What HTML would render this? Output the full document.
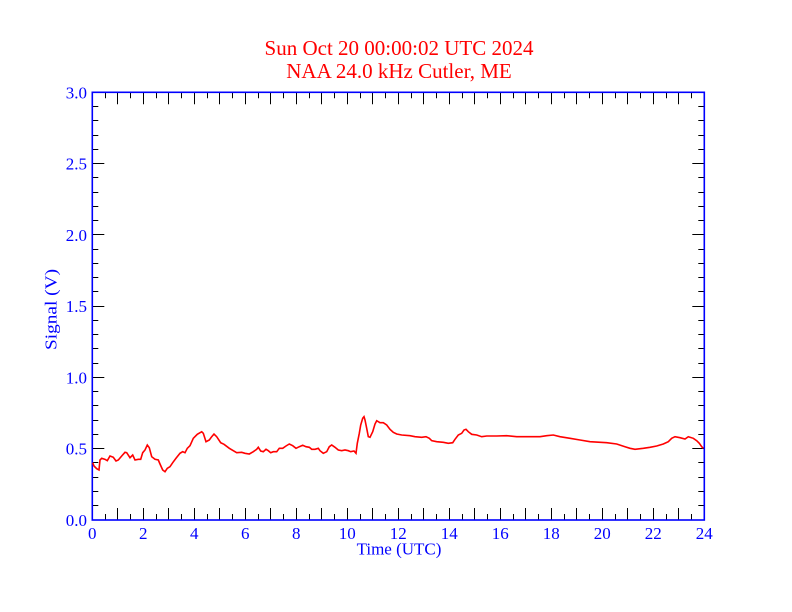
<!DOCTYPE html>
<html><head><meta charset="utf-8"><style>html,body{margin:0;padding:0;background:#fff}svg{display:block}</style></head>
<body>
<svg width="792" height="612" viewBox="0 0 792 612" xmlns="http://www.w3.org/2000/svg">
<rect width="792" height="612" fill="#fff"/>
<defs>
<path id="XL" d="M0 520v-12M0 92.3v12" stroke="#000" stroke-width="1"/>
<path id="XS" d="M0 520v-6M0 92.3v6" stroke="#000" stroke-width="1"/>
<path id="YL" d="M92.3 0h12M704.3 0h-12" stroke="#000" stroke-width="1"/>
<path id="YS" d="M92.3 0h6M704.3 0h-6" stroke="#000" stroke-width="1"/>
</defs>
<g>
<use href="#XS" x="105.5"/><use href="#XL" x="117.5"/><use href="#XS" x="130.5"/><use href="#XL" x="143.5"/>
<use href="#XS" x="156.5"/><use href="#XL" x="168.5"/><use href="#XS" x="181.5"/><use href="#XL" x="194.5"/>
<use href="#XS" x="207.5"/><use href="#XL" x="219.5"/><use href="#XS" x="232.5"/><use href="#XL" x="245.5"/>
<use href="#XS" x="258.5"/><use href="#XL" x="270.5"/><use href="#XS" x="283.5"/><use href="#XL" x="296.5"/>
<use href="#XS" x="309.5"/><use href="#XL" x="321.5"/><use href="#XS" x="334.5"/><use href="#XL" x="347.5"/>
<use href="#XS" x="360.5"/><use href="#XL" x="372.5"/><use href="#XS" x="385.5"/><use href="#XL" x="398.5"/>
<use href="#XS" x="411.5"/><use href="#XL" x="423.5"/><use href="#XS" x="436.5"/><use href="#XL" x="449.5"/>
<use href="#XS" x="462.5"/><use href="#XL" x="474.5"/><use href="#XS" x="487.5"/><use href="#XL" x="500.5"/>
<use href="#XS" x="513.5"/><use href="#XL" x="525.5"/><use href="#XS" x="538.5"/><use href="#XL" x="551.5"/>
<use href="#XS" x="564.5"/><use href="#XL" x="576.5"/><use href="#XS" x="589.5"/><use href="#XL" x="602.5"/>
<use href="#XS" x="615.5"/><use href="#XL" x="627.5"/><use href="#XS" x="640.5"/><use href="#XL" x="653.5"/>
<use href="#XS" x="666.5"/><use href="#XL" x="678.5"/><use href="#XS" x="691.5"/>

<use href="#YS" y="505.5"/><use href="#YS" y="491.5"/><use href="#YS" y="477.5"/><use href="#YS" y="462.5"/>
<use href="#YL" y="448.5"/><use href="#YS" y="434.5"/><use href="#YS" y="420.5"/><use href="#YS" y="405.5"/>
<use href="#YS" y="391.5"/><use href="#YL" y="377.5"/><use href="#YS" y="363.5"/><use href="#YS" y="348.5"/>
<use href="#YS" y="334.5"/><use href="#YS" y="320.5"/><use href="#YL" y="306.5"/><use href="#YS" y="291.5"/>
<use href="#YS" y="277.5"/><use href="#YS" y="263.5"/><use href="#YS" y="249.5"/><use href="#YL" y="234.5"/>
<use href="#YS" y="220.5"/><use href="#YS" y="206.5"/><use href="#YS" y="192.5"/><use href="#YS" y="177.5"/>
<use href="#YL" y="163.5"/><use href="#YS" y="149.5"/><use href="#YS" y="135.5"/><use href="#YS" y="120.5"/>
<use href="#YS" y="106.5"/>
</g>
<rect x="92.3" y="92.3" width="612" height="427.7" fill="none" stroke="#0000ff" stroke-width="1.6"/>

<polyline fill="none" stroke="#ff0000" stroke-width="1.6" stroke-linejoin="miter" points="92.7,462.7 94,466 96.7,468.7 99,470 100,460 101.7,458.3 105,459.3 107.3,460.7 110,456 113.3,457.3 116,461 118.3,460 121.7,456 125,452.3 126.7,452.7 130,457.7 132.7,455 135,460 138.3,459.3 140.7,459.3 142.7,452.7 145,450 147.3,445 149.3,447.7 151.7,456.7 155,459.3 158.3,460 160,464 162.7,470 165,471.7 167.3,468.3 170,466.7 172.7,462.7 176,458.3 180,453.3 182.7,451.7 185,452.7 187.3,448.3 190,445.7 193.3,438.3 197.3,434.3 201.7,431.7 203.3,433.3 206,441.7 209.3,440 211.7,436.7 214,434 216.7,436.7 220.7,442.7 224,444.3 229.3,448.3 233.3,450.7 236.7,452.7 241.7,452.3 245,453.3 249.3,454 253.3,451.7 256.7,449.3 258.3,447.3 260.7,451 263.3,451.7 266,449.3 268.3,450.7 270.7,452.7 273.3,451.7 276.7,451.7 279.3,448.3 282.7,448.3 286,446 289.3,444 292.7,445.7 296,448.3 299.3,446.7 302.7,445.3 306,446.7 309.3,447.3 311.7,449.3 315,449.3 318.3,448.3 320,450.7 323.3,453.3 326.7,451.7 329.3,446.7 331.7,445 335,447.3 338.3,450 341.7,450.7 345,450 348.3,450.7 350.7,451.7 354,451 356,453.3 357.3,443.3 359.3,433.3 360.7,425 362.7,418.3 364,416.7 365,420 366.7,428.3 368.3,436.7 370,437.3 372.7,431.7 375,424 376.7,420.7 380,422.7 383.3,422.7 386.7,425 390,429.3 393.3,432.3 396.7,434 401.7,435 410,435.7 415,436.7 421.7,437.3 426,436.7 429.3,438.3 431.7,440.7 436.7,441.7 443.3,442.3 448.3,443.3 452.7,442.7 455,439.3 458.3,435 461.7,433.3 464,430 466,429.3 468.3,431.7 471.7,434.3 476.7,435 481.7,436.7 486.7,436 496.7,436 506.7,435.7 516.7,436.7 530,436.7 540,436.7 546.7,435.7 553.3,435 560,436.7 570,438.3 580,440 590,441.7 606.7,442.7 616.7,444 625,446.7 630,448.3 635,449.3 643.3,448.3 650,447.3 656.7,446 663.3,444 668.3,441.7 671.7,438.3 675,436.7 680,437.7 685,439 688.3,436.7 693.3,438.3 696.7,440.7 699.3,443.3 701.7,446.7 703.3,448.3"/>

<g font-family="'Liberation Serif', serif" fill="#ff0000" font-size="21" text-anchor="middle">
<text x="399" y="55">Sun Oct 20 00:00:02 UTC 2024</text>
<text x="399" y="78">NAA 24.0 kHz Cutler, ME</text>
</g>
<g font-family="'Liberation Serif', serif" fill="#0000ff" font-size="17" text-anchor="end">
<text x="87" y="526">0.0</text>
<text x="87" y="454.7">0.5</text>
<text x="87" y="383.4">1.0</text>
<text x="87" y="312.2">1.5</text>
<text x="87" y="240.9">2.0</text>
<text x="87" y="169.6">2.5</text>
<text x="87" y="98.3">3.0</text>
</g>
<g font-family="'Liberation Serif', serif" fill="#0000ff" font-size="17" text-anchor="middle">
<text x="92.3" y="539">0</text>
<text x="143.3" y="539">2</text>
<text x="194.3" y="539">4</text>
<text x="245.3" y="539">6</text>
<text x="296.3" y="539">8</text>
<text x="347.3" y="539">10</text>
<text x="398.3" y="539">12</text>
<text x="449.3" y="539">14</text>
<text x="500.3" y="539">16</text>
<text x="551.3" y="539">18</text>
<text x="602.3" y="539">20</text>
<text x="653.3" y="539">22</text>
<text x="704.3" y="539">24</text>
<text x="399" y="554.5">Time (UTC)</text>
<text transform="translate(56.5,309.5) rotate(-90)" x="0" y="0" textLength="81" lengthAdjust="spacingAndGlyphs">Signal (V)</text>
</g>
</svg>
</body></html>
